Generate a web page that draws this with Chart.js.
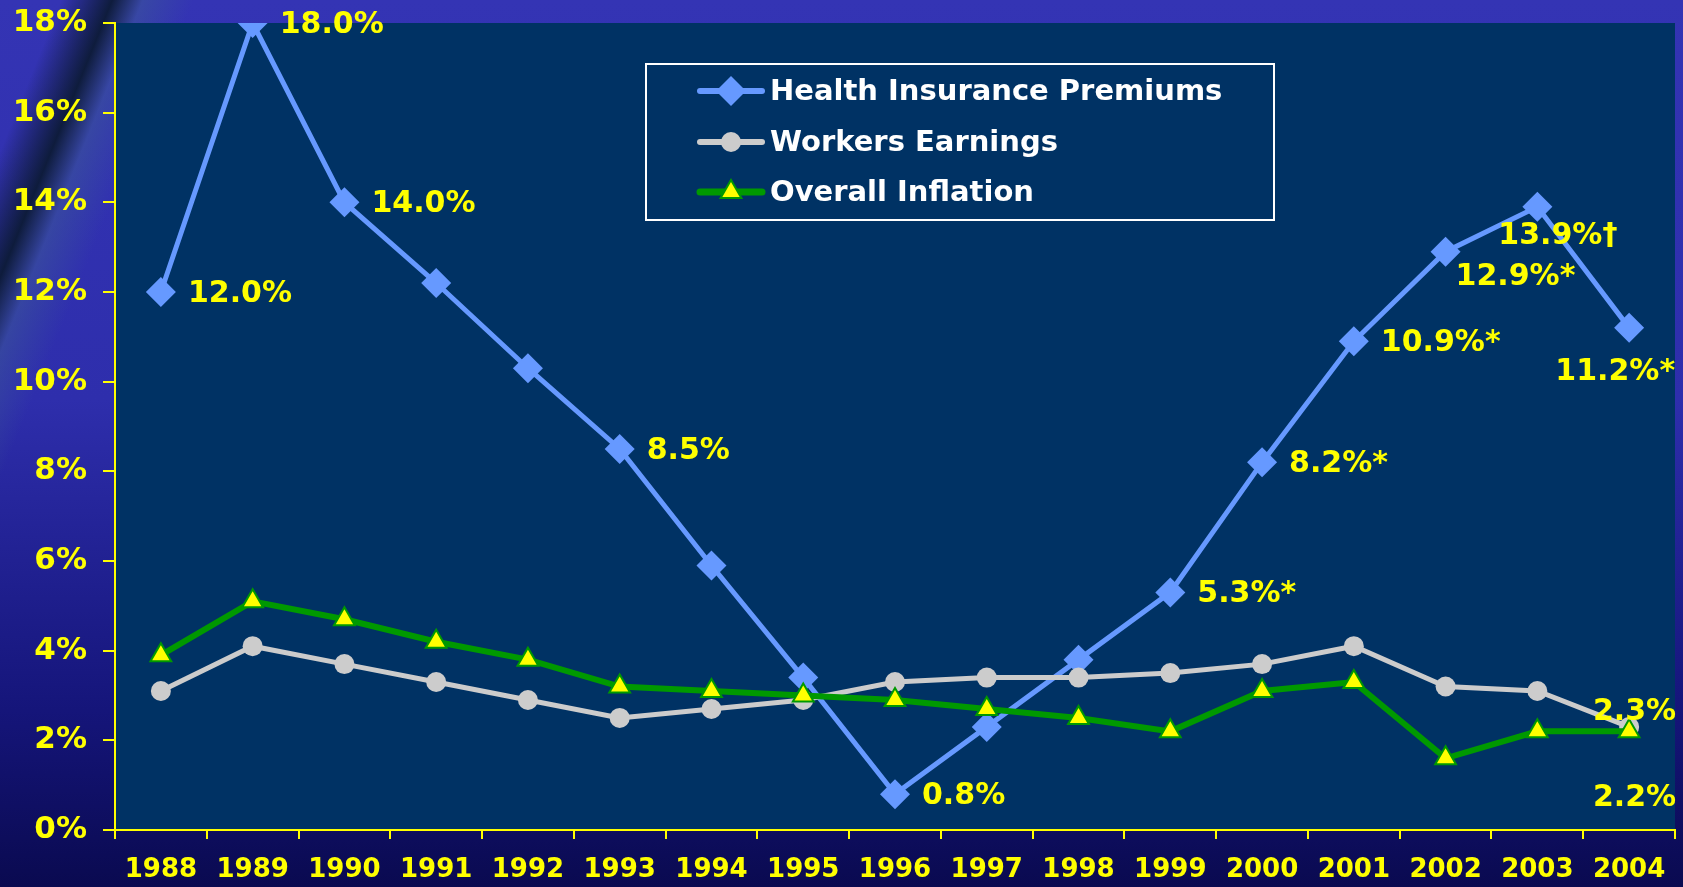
<!DOCTYPE html>
<html>
<head>
<meta charset="utf-8">
<script src="https://cdn.jsdelivr.net/npm/chart.js@4.4.1/dist/chart.umd.min.js"></script>
<style>
  html, body { margin: 0; padding: 0; }
  body {
    width: 1683px; height: 887px; overflow: hidden;
    background:
      linear-gradient(112deg, rgba(0,0,0,0) 0%, rgba(0,0,0,0) 3%, rgba(8,24,40,0.85) 5.5%, rgba(60,90,150,0.5) 7%, rgba(0,0,0,0) 9.5%),
      linear-gradient(180deg, #3434b4 0%, #2e2eac 45%, #15157a 80%, #0a0a50 100%);
  }
  #wrap { position: relative; width: 1683px; height: 887px; }
</style>
</head>
<body>
<div id="wrap"><canvas id="trendChart"></canvas></div>
<script>
const years = ['1988', '1989', '1990', '1991', '1992', '1993', '1994', '1995', '1996',
  '1997', '1998', '1999', '2000', '2001', '2002', '2003', '2004'];
const healthPremiums = [12.0, 18.0, 14.0, 12.2, 10.3, 8.5, 5.9, 3.4, 0.8, 2.3, 3.8, 5.3, 8.2, 10.9, 12.9, 13.9, 11.2];
const workersEarnings = [3.1, 4.1, 3.7, 3.3, 2.9, 2.5, 2.7, 2.9, 3.3, 3.4, 3.4, 3.5, 3.7, 4.1, 3.2, 3.1, 2.3];
const overallInflation = [3.9, 5.1, 4.7, 4.2, 3.8, 3.2, 3.1, 3.0, 2.9, 2.7, 2.5, 2.2, 3.1, 3.3, 1.6, 2.2, 2.2];
const yTicks = [0, 2, 4, 6, 8, 10, 12, 14, 16, 18];

const healthLabels = ['12.0%', '18.0%', '14.0%', '', '', '8.5%', '', '', '0.8%', '', '', '5.3%*', '8.2%*', '10.9%*', '12.9%*', '13.9%\u2020', '11.2%*'];
const earningsLabels = ['', '', '', '', '', '', '', '', '', '', '', '', '', '', '', '', '2.3%'];
const inflationLabels = ['', '', '', '', '', '', '', '', '', '', '', '', '', '', '', '', '2.2%'];

const YELLOW = '#FFFF00';
const FONT = '"DejaVu Sans", Verdana, sans-serif';

// label placement relative to the point: [dx, dy, align]
const labelPlacement = [
  { 14: [10, 26, 'left'], 15: [-39, 29, 'left'], 16: [46, 44, 'right'] },
  { 16: [47, -15, 'right'] },
  { 16: [47, 67, 'right'] }
];
const allLabels = [healthLabels, earningsLabels, inflationLabels];

const plotBackground = {
  id: 'plotBackground',
  beforeDraw(chart) {
    const { ctx, chartArea: a } = chart;
    ctx.save();
    ctx.fillStyle = '#003264';
    ctx.fillRect(a.left, a.top, a.right - a.left, a.bottom - a.top);
    ctx.restore();
  }
};

const pointLabels = {
  id: 'pointLabels',
  afterDatasetsDraw(chart) {
    const ctx = chart.ctx;
    ctx.save();
    ctx.font = 'bold 30px ' + FONT;
    ctx.fillStyle = YELLOW;
    ctx.textBaseline = 'middle';
    allLabels.forEach((texts, di) => {
      const meta = chart.getDatasetMeta(di);
      texts.forEach((t, i) => {
        if (!t) return;
        const p = meta.data[i];
        const place = labelPlacement[di][i] || [27, 2, 'left'];
        ctx.textAlign = place[2];
        ctx.fillText(t, p.x + place[0], p.y + place[1]);
      });
    });
    ctx.restore();
  }
};

const boxLegend = {
  id: 'boxLegend',
  afterDraw(chart) {
    const ctx = chart.ctx;
    ctx.save();
    ctx.strokeStyle = '#FFFFFF';
    ctx.lineWidth = 2;
    ctx.strokeRect(646, 64, 628, 156);
    const rows = [91, 142, 192];
    ctx.font = 'bold 29px ' + FONT;
    ctx.textBaseline = 'middle';
    ctx.textAlign = 'left';
    chart.data.datasets.forEach((ds, i) => {
      const y = rows[i];
      ctx.strokeStyle = ds.borderColor;
      ctx.lineWidth = ds.borderWidth + 1;
      ctx.lineCap = 'round';
      ctx.beginPath();
      ctx.moveTo(700, y);
      ctx.lineTo(762, y);
      ctx.stroke();
      ctx.fillStyle = ds.pointBackgroundColor;
      ctx.strokeStyle = ds.pointBorderColor;
      ctx.lineWidth = ds.pointBorderWidth;
      Chart.helpers.drawPoint(ctx, {
        pointStyle: ds.pointStyle, radius: ds.pointRadius, rotation: 0,
        borderWidth: ds.pointBorderWidth
      }, 731, y);
      ctx.fillStyle = '#FFFFFF';
      ctx.fillText(ds.label, 770, y + 1);
    });
    ctx.restore();
  }
};

new Chart(document.getElementById('trendChart'), {
  type: 'line',
  data: {
    labels: years,
    datasets: [{
      label: 'Health Insurance Premiums',
      data: healthPremiums,
      borderColor: '#6699FF',
      borderWidth: 5,
      pointStyle: 'rectRot',
      pointRadius: 15,
      pointBackgroundColor: '#6699FF',
      pointBorderColor: '#6699FF',
      pointBorderWidth: 0,
      order: 3
    }, {
      label: 'Workers Earnings',
      data: workersEarnings,
      borderColor: '#CCCCCC',
      borderWidth: 5,
      pointStyle: 'circle',
      pointRadius: 10,
      pointBackgroundColor: '#CCCCCC',
      pointBorderColor: '#CCCCCC',
      pointBorderWidth: 0,
      order: 2
    }, {
      label: 'Overall Inflation',
      data: overallInflation,
      borderColor: '#009900',
      borderWidth: 6,
      pointStyle: 'triangle',
      pointRadius: 12,
      pointBackgroundColor: YELLOW,
      pointBorderColor: '#009900',
      pointBorderWidth: 2,
      order: 1
    }]
  },
  options: {
    responsive: true,
    maintainAspectRatio: false,
    animation: false,
    layout: { autoPadding: false, padding: { top: 23, right: 8, left: 0, bottom: 0 } },
    plugins: { legend: { display: false }, tooltip: { enabled: false } },
    elements: { line: { tension: 0 } },
    scales: {
      x: {
        offset: true,
        grid: { offset: true, drawOnChartArea: false, drawTicks: true, tickLength: 9, color: YELLOW, lineWidth: 2 },
        border: { color: YELLOW, width: 2 },
        ticks: { color: YELLOW, font: { family: FONT, size: 26, weight: 'bold' }, padding: 16, maxRotation: 0, autoSkip: false },
        afterFit(s) { s.height = 57; s.paddingLeft = 0; s.paddingRight = 0; }
      },
      y: {
        min: 0,
        max: 18,
        afterBuildTicks(s) { s.ticks = yTicks.map(v => ({ value: v })); },
        grid: { drawOnChartArea: false, drawTicks: true, tickLength: 12, color: YELLOW, lineWidth: 2 },
        border: { color: YELLOW, width: 2 },
        ticks: { color: YELLOW, font: { family: FONT, size: 31, weight: 'bold' }, padding: 16, callback: v => v + '%' },
        afterFit(s) { s.width = 115; s.paddingTop = 0; s.paddingBottom = 0; }
      }
    }
  },
  plugins: [plotBackground, pointLabels, boxLegend]
});
</script>
</body>
</html>
